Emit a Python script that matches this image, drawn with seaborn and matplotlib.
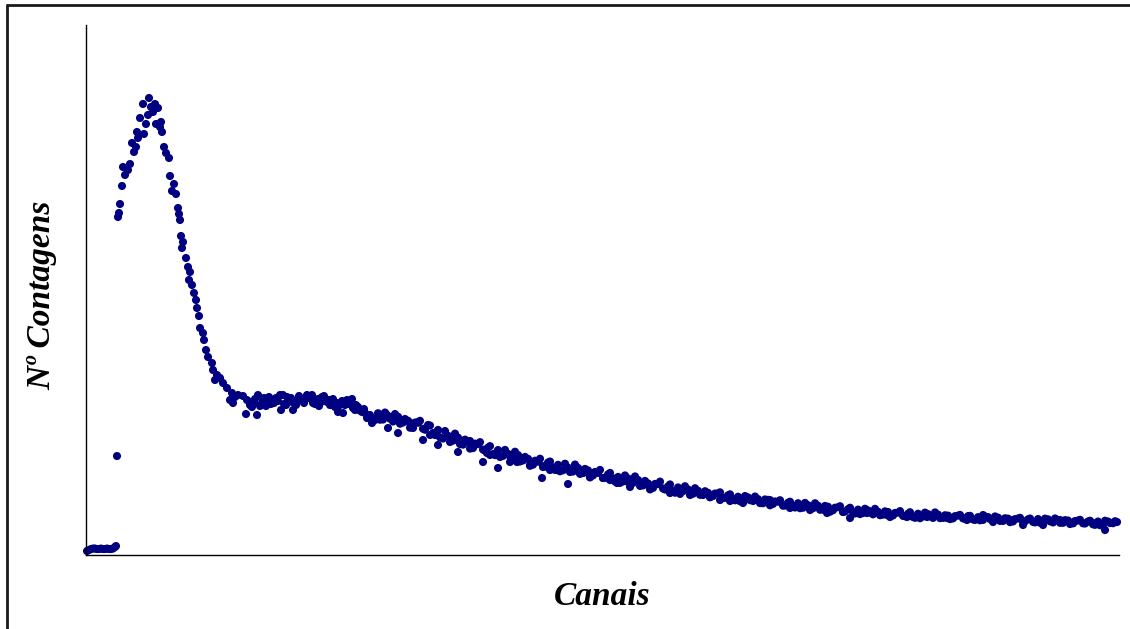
# Espectro: numero de contagens por canal
import matplotlib.pyplot as plt
from matplotlib.lines import Line2D
import numpy as np
import pandas as pd
import seaborn as sns

# fundo antes do limiar
base_ch = [1, 3, 5, 7, 9, 11, 13, 15, 17, 19, 21, 23, 25, 27, 29, 30, 31]
base_ct = [40, 50, 60, 65, 65, 60, 60, 65, 60, 60, 65, 60, 60, 65, 80, 90, 990]

# pico
peak_ch = [32, 33, 34, 36, 37, 39, 42, 44, 46, 48, 50, 51, 52, 54, 57, 58, 60, 62, 63,
           65, 67, 69, 70, 72, 74, 75, 76, 78, 80, 83, 84, 86, 88, 90, 92, 93, 94, 95,
           96, 97, 100, 102, 103, 104, 106, 108, 110, 111, 113, 114, 117, 118, 120,
           122, 126, 127, 129, 131, 134, 137, 141, 144, 146, 147, 149, 152, 157, 160, 161]
peak_ct = [3380, 3420, 3510, 3690, 3880, 3800, 3850, 3910, 4120, 4030, 4080, 4230, 4170,
           4370, 4510, 4210, 4310, 4400, 4570, 4480, 4430, 4510, 4310, 4470, 4280, 4330,
           4230, 4080, 4020, 3970, 3790, 3640, 3710, 3610, 3470, 3410, 3350, 3190, 3070,
           3130, 2970, 2880, 2750, 2830, 2700, 2620, 2550, 2470, 2390, 2270, 2220, 2150,
           2050, 1980, 1920, 1850, 1750, 1800, 1770, 1720, 1670, 1550, 1620, 1520, 1580,
           1600, 1590, 1410, 1550]

# patamar
plat_ch = [164, 166, 168, 171, 172, 176, 178, 180, 182, 185, 187, 190, 194, 195, 198,
           201, 203, 206, 207, 210, 212, 215, 218, 221, 224, 227, 230, 233, 236, 239,
           241, 244, 247, 251, 252, 254, 257, 261, 264, 267, 270, 273, 276, 279, 281,
           284, 286, 289, 291]
plat_ct = [1500, 1480, 1530, 1400, 1600, 1520, 1570, 1490, 1530, 1510, 1550, 1570, 1600,
           1450, 1510, 1580, 1560, 1530, 1450, 1500, 1550, 1560, 1520, 1600, 1570, 1520,
           1540, 1490, 1580, 1560, 1530, 1500, 1560, 1520, 1430, 1500, 1420, 1550, 1530,
           1470, 1500, 1450, 1430, 1420, 1370, 1400, 1320, 1350, 1380]
plat2_ch = [165, 169, 174, 177, 183, 188, 192, 197, 200, 205, 209, 213, 217, 220, 226,
            229, 232, 235, 238, 243, 246, 249, 256, 259, 263, 266, 269, 272, 275, 278,
            283, 288]
plat2_ct = [1530, 1560, 1490, 1550, 1580, 1520, 1540, 1600, 1500, 1570, 1530, 1590, 1540,
            1560, 1600, 1510, 1560, 1530, 1590, 1550, 1520, 1480, 1540, 1500, 1510, 1560,
            1450, 1480, 1440, 1460, 1390, 1360]

# cauda (leituras)
tail_ch = [297, 301, 302, 311, 312, 324, 326, 332, 337, 344, 351, 352, 364, 371, 372,
           384, 385, 397, 401, 404, 411, 412, 424, 431, 444, 456, 457, 464, 471, 482,
           484, 497, 504, 517, 524, 531, 542, 544, 564, 584, 604, 624, 634, 644, 657,
           684, 704, 724, 741, 757, 764, 781, 801, 821, 841, 861, 881, 897, 907, 927,
           937, 957, 974, 987, 1007, 1019, 1031]
tail_ct = [1380, 1400, 1270, 1370, 1220, 1320, 1300, 1330, 1150, 1200, 1230, 1100, 1130,
           1150, 1030, 1140, 1080, 930, 1020, 1000, 1030, 870, 930, 930, 900, 770, 880,
           850, 850, 710, 830, 820, 780, 770, 750, 720, 730, 680, 680, 620, 600, 580,
           550, 540, 520, 550, 470, 450, 420, 430, 370, 420, 400, 380, 380, 370, 350,
           400, 330, 350, 300, 300, 350, 320, 320, 250, 330]

# cauda (banda, canais 292..1027)
band_ch = list(range(292, 1028, 5))
band_ct = [1418, 1355, 1388, 1335, 1383, 1325, 1343, 1270, 1322, 1263, 1300, 1220, 1251,
           1165, 1193, 1144, 1174, 1104, 1134, 1069, 1109, 1054, 1074, 1009, 1050, 991,
           1012, 958, 1000, 946, 962, 903, 933, 889, 925, 876, 902, 848, 874, 835, 871,
           821, 846, 796, 821, 771, 806, 766, 781, 736, 766, 721, 751, 696, 716, 671,
           709, 665, 686, 643, 676, 638, 656, 613, 642, 600, 622, 590, 617, 570, 597,
           560, 583, 542, 576, 540, 559, 518, 552, 511, 533, 493, 523, 488, 518, 473,
           498, 468, 493, 453, 483, 448, 478, 433, 458, 428, 454, 420, 446, 407, 433,
           404, 430, 396, 424, 391, 413, 380, 413, 386, 409, 371, 404, 371, 394, 366,
           394, 366, 389, 356, 379, 351, 379, 351, 374, 341, 364, 336, 365, 334, 357,
           331, 360, 334, 357, 326, 350, 322, 345, 317, 345, 317, 335, 307, 335, 303,
           335, 318]

# cauda (banda, canais 294..1029)
band2_ch = list(range(294, 1030, 5))
band2_ct = [1353, 1425, 1363, 1410, 1313, 1360, 1273, 1325, 1342, 1253, 1295, 1200, 1176,
            1240, 1173, 1214, 1109, 1154, 1064, 1114, 1129, 1044, 1089, 999, 980, 1051,
            987, 1033, 935, 981, 892, 943, 963, 884, 935, 851, 837, 913, 854, 905, 811,
            861, 776, 831, 851, 771, 821, 736, 721, 796, 736, 786, 691, 741, 656, 711,
            734, 655, 706, 623, 611, 688, 634, 668, 602, 638, 577, 615, 627, 572, 607,
            547, 538, 590, 549, 585, 519, 556, 497, 536, 548, 495, 533, 475, 468, 521,
            481, 518, 453, 491, 433, 473, 488, 435, 473, 415, 409, 463, 424, 462, 398,
            437, 380, 421, 439, 388, 428, 372, 368, 424, 387, 426, 369, 398, 359, 389,
            401, 364, 392, 351, 347, 386, 359, 386, 341, 368, 329, 359, 372, 337, 365,
            326, 323, 364, 337, 366, 322, 349, 310, 340, 352, 315, 343, 302, 298, 343,
            320, 338]

df = pd.DataFrame({
    "canal": np.concatenate([base_ch, peak_ch, plat_ch, plat2_ch, tail_ch, band_ch, band2_ch]),
    "contagens": np.concatenate([base_ct, peak_ct, plat_ct, plat2_ct, tail_ct, band_ct, band2_ct]),
})

sns.set_style("white")
plt.rcParams["font.family"] = ["Liberation Serif", "DejaVu Serif"]

fig = plt.figure(figsize=(11.3, 6.29), dpi=100)
ax = fig.add_axes([0.0761, 0.1176, 0.9142, 0.8427])

sns.scatterplot(data=df, x="canal", y="contagens", color="#000080", s=34,
                edgecolor="none", ax=ax, clip_on=False, legend=False)

ax.set_xlim(0, 1033)
ax.set_ylim(0, 5300)
ax.set_xticks([])
ax.set_yticks([])
sns.despine(ax=ax)
for side in ["left", "bottom"]:
    ax.spines[side].set_color("black")
    ax.spines[side].set_linewidth(1.0)

ax.set_xlabel("Canais", fontsize=24, fontweight="bold", fontstyle="italic", color="black")
ax.set_ylabel("Nº Contagens", fontsize=24, fontweight="bold", fontstyle="italic", color="black")
ax.xaxis.set_label_coords(0.5, -0.049)
ax.yaxis.set_label_coords(-0.028, 0.49)

# moldura (topo e esquerda)
fig.add_artist(Line2D([7 / 1130, 1], [1 - 5 / 629, 1 - 5 / 629],
                      transform=fig.transFigure, color="#1a1a1a", lw=2))
fig.add_artist(Line2D([7 / 1130, 7 / 1130], [0, 1 - 5 / 629],
                      transform=fig.transFigure, color="#1a1a1a", lw=2))

fig.savefig("out.png", dpi=100)
